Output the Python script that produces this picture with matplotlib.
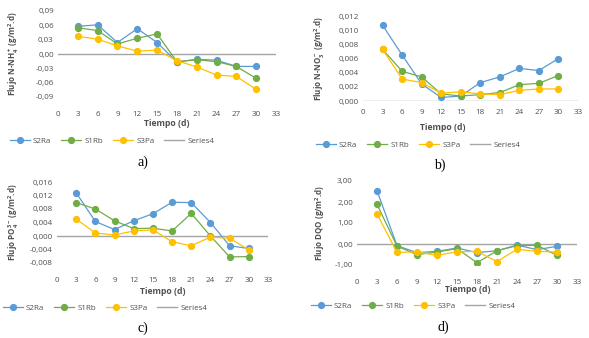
import numpy as np
import matplotlib
matplotlib.use("Agg")
import matplotlib.pyplot as plt
from matplotlib.ticker import FuncFormatter
from matplotlib.lines import Line2D

plt.rcParams['font.family'] = ['Open Sans', 'DejaVu Sans']
plt.rcParams['mathtext.default'] = 'regular'

# Data
dias = [3, 6, 9, 12, 15, 18, 21, 24, 27, 30]
series = ["S2Ra", "S1Rb", "S3Pa"]

nh4_s2ra = [0.058, 0.061, 0.024, 0.053, 0.024, -0.017, -0.011, -0.013, -0.026, -0.026]
nh4_s1rb = [0.055, 0.049, 0.021, 0.033, 0.042, -0.016, -0.012, -0.016, -0.026, -0.051]
nh4_s3pa = [0.037, 0.031, 0.017, 0.006, 0.008, -0.014, -0.027, -0.044, -0.047, -0.074]

no3_s2ra = [0.0107, 0.0065, 0.0024, 0.0005, 0.0007, 0.0026, 0.0034, 0.0046, 0.0043, 0.0060]
no3_s1rb = [0.0073, 0.0042, 0.0034, 0.0010, 0.0007, 0.0009, 0.0012, 0.0023, 0.0025, 0.0036]
no3_s3pa = [0.0073, 0.0031, 0.0026, 0.0011, 0.0013, 0.0010, 0.0009, 0.0015, 0.0017, 0.0017]

po4_s2ra = [0.0128, 0.0043, 0.0019, 0.0045, 0.0066, 0.0100, 0.0099, 0.0040, -0.0029, -0.0037]
po4_s1rb = [0.0099, 0.0080, 0.0045, 0.0022, 0.0023, 0.0015, 0.0067, 0.0000, -0.0062, -0.0061]
po4_s3pa = [0.0050, 0.0009, 0.0003, 0.0015, 0.0018, -0.0017, -0.0029, -0.0003, -0.0007, -0.0041]

dqo_s2ra = [2.54, -0.08, -0.41, -0.35, -0.19, -0.41, -0.32, -0.05, -0.27, -0.11]
dqo_s1rb = [1.89, -0.10, -0.51, -0.38, -0.22, -0.89, -0.32, -0.08, -0.06, -0.54]
dqo_s3pa = [1.43, -0.40, -0.38, -0.54, -0.37, -0.35, -0.84, -0.25, -0.35, -0.38]

colores = ["#5B9BD5", "#70AD47", "#FFC000"]
gris = "#A5A5A5"
texto = "#505050"
W, H = 589, 338

fig = plt.figure(figsize=(W / 100, H / 100), dpi=100)


def px_axes(left, right, top, bottom):
    return fig.add_axes([left / W, 1 - bottom / H, (right - left) / W, (bottom - top) / H])


def coma(dec):
    def f(v, p):
        if abs(v) < 1e-12:
            v = 0.0
        return f"{v:.{dec}f}".replace(".", ",")
    return FuncFormatter(f)


paneles = [
    dict(box=(58, 276, 11, 97), datos=(nh4_s2ra, nh4_s1rb, nh4_s3pa), ylim=(-0.09, 0.09), paso=0.03, dec=2,
         ylabel=r"Flujo N-NH$_4^+$ (g/m$^2$.d)", ylx=14, xl=(167, 123), leg=(112, 141), letra="a)", lt=(143, 162)),
    dict(box=(363, 578, 16, 101), datos=(no3_s2ra, no3_s1rb, no3_s3pa), ylim=(0, 0.012), paso=0.002, dec=3,
         ylabel=r"Flujo N-NO$_3^-$ (g/m$^2$.d)", ylx=320, xl=(443, 127), leg=(418, 145), letra="b)", lt=(440, 165)),
    dict(box=(57, 268, 182, 263), datos=(po4_s2ra, po4_s1rb, po4_s3pa), ylim=(-0.008, 0.016), paso=0.004, dec=3,
         ylabel=r"Flujo PO$_4^{3-}$ (g/m$^2$.d)", ylx=14, xl=(163, 292), leg=(105, 308), letra="c)", lt=(143, 328)),
    dict(box=(357, 577, 181, 265), datos=(dqo_s2ra, dqo_s1rb, dqo_s3pa), ylim=(-1, 3), paso=1, dec=2,
         ylabel=r"Flujo DQO (g/m$^2$.d)", ylx=320, xl=(468, 290), leg=(413, 306), letra="d)", lt=(443, 327)),
]

for p in paneles:
    ax = px_axes(*p["box"])
    ax.axhline(0, color=gris, lw=1.0, zorder=1)
    for vals, c in zip(p["datos"], colores):
        ax.plot(dias, vals, color=c, lw=0.9, marker="o", ms=4.2, zorder=3)
    ax.set_xlim(0, 33)
    ax.set_ylim(*p["ylim"])
    ax.set_xticks(np.arange(0, 34, 3))
    ax.set_yticks(np.arange(p["ylim"][0], p["ylim"][1] + p["paso"] / 2, p["paso"]))
    ax.yaxis.set_major_formatter(coma(p["dec"]))
    for s in ax.spines.values():
        s.set_visible(False)
    ax.tick_params(length=0, labelsize=5.8, colors=texto, pad=3)
    ax.tick_params(axis="x", pad=10 if p["ylim"][0] < 0 else 6)
    fig.text(p["ylx"] / W, 1 - (p["box"][2] + p["box"][3]) / 2 / H, p["ylabel"], rotation=90,
             ha="center", va="center", fontsize=5.8, fontweight="bold", color=texto)
    fig.text(p["xl"][0] / W, 1 - p["xl"][1] / H, "Tiempo (d)", ha="center", va="center",
             fontsize=6.2, fontweight="bold", color=texto)
    handles = [Line2D([], [], color=c, lw=0.9, marker="o", ms=4.2) for c in colores]
    handles.append(Line2D([], [], color=gris, lw=1.0))
    fig.legend(handles, series + ["Series4"], loc="center", ncol=4,
               bbox_to_anchor=(p["leg"][0] / W, 1 - p["leg"][1] / H), frameon=False,
               fontsize=5.8, handlelength=2.5, columnspacing=1.2, handletextpad=0.4,
               labelcolor=texto)
    fig.text(p["lt"][0] / W, 1 - p["lt"][1] / H, p["letra"], ha="center", va="center",
             fontsize=10, family="Liberation Serif")

fig.savefig("out.png", dpi=100)
